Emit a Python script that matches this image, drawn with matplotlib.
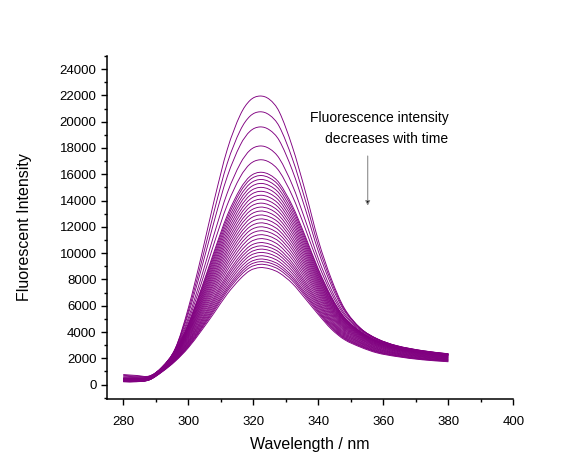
import numpy as np
import matplotlib.pyplot as plt
from matplotlib.path import Path
from matplotlib.patches import PathPatch
from matplotlib.ticker import MultipleLocator

# Emission spectra recorded over time (first row = first scan, highest peak)
wavelength = [280, 284, 288, 292, 296, 300, 304, 308, 312, 316, 319, 322,
              325, 328, 332, 336, 340, 344, 348, 353, 358, 364, 372, 380]

spectra = [
    [770, 700, 660, 1320, 2740, 5820, 9770, 14050, 17890, 20520, 21620, 21950, 21690, 20740, 18110, 14710, 10980, 8050, 5820, 4280, 3470, 2900, 2500, 2240],
    [710, 650, 640, 1340, 2740, 5590, 9260, 13230, 16840, 19340, 20420, 20750, 20500, 19630, 17200, 14030, 10570, 7830, 5730, 4280, 3500, 2950, 2550, 2300],
    [650, 600, 620, 1350, 2710, 5370, 8770, 12460, 15830, 18220, 19270, 19600, 19370, 18560, 16310, 13360, 10150, 7570, 5620, 4260, 3500, 2970, 2580, 2330],
    [580, 540, 600, 1350, 2660, 5070, 8160, 11480, 14580, 16810, 17830, 18150, 17940, 17200, 15190, 12500, 9600, 7230, 5440, 4200, 3470, 2970, 2590, 2350],
    [530, 500, 580, 1340, 2610, 4850, 7700, 10790, 13680, 15800, 16780, 17100, 16910, 16220, 14360, 11870, 9190, 6960, 5300, 4130, 3430, 2940, 2570, 2340],
    [490, 470, 560, 1330, 2560, 4640, 7290, 10160, 12880, 14890, 15840, 16150, 15970, 15330, 13610, 11290, 8790, 6700, 5140, 4050, 3370, 2910, 2540, 2320],
    [480, 460, 550, 1320, 2540, 4580, 7190, 9990, 12660, 14650, 15590, 15900, 15720, 15100, 13410, 11130, 8690, 6630, 5100, 4020, 3350, 2900, 2540, 2320],
    [470, 450, 540, 1320, 2520, 4510, 7060, 9790, 12410, 14360, 15290, 15600, 15430, 14820, 13170, 10950, 8560, 6550, 5050, 3990, 3330, 2880, 2520, 2310],
    [460, 430, 540, 1310, 2500, 4440, 6930, 9600, 12160, 14070, 14990, 15300, 15130, 14540, 12930, 10760, 8430, 6460, 4990, 3960, 3310, 2860, 2510, 2290],
    [450, 420, 530, 1300, 2470, 4370, 6790, 9400, 11910, 13790, 14700, 15000, 14840, 14250, 12690, 10570, 8300, 6360, 4930, 3920, 3280, 2840, 2490, 2280],
    [430, 410, 520, 1290, 2450, 4300, 6660, 9200, 11650, 13500, 14400, 14700, 14540, 13970, 12450, 10380, 8170, 6280, 4880, 3890, 3250, 2820, 2480, 2270],
    [420, 400, 520, 1280, 2430, 4230, 6530, 9010, 11400, 13210, 14100, 14400, 14240, 13690, 12210, 10190, 8030, 6180, 4820, 3850, 3230, 2800, 2460, 2250],
    [410, 390, 510, 1270, 2400, 4160, 6400, 8810, 11150, 12930, 13800, 14100, 13950, 13410, 11970, 10000, 7900, 6090, 4760, 3810, 3200, 2780, 2440, 2240],
    [400, 380, 500, 1260, 2370, 4090, 6270, 8620, 10900, 12640, 13510, 13800, 13650, 13130, 11730, 9810, 7760, 5990, 4690, 3770, 3160, 2750, 2420, 2220],
    [390, 370, 490, 1250, 2340, 4010, 6140, 8420, 10650, 12360, 13210, 13500, 13360, 12840, 11490, 9610, 7620, 5900, 4630, 3730, 3130, 2730, 2400, 2200],
    [370, 360, 480, 1230, 2310, 3940, 6010, 8230, 10400, 12080, 12910, 13200, 13060, 12560, 11240, 9420, 7480, 5800, 4560, 3680, 3090, 2700, 2370, 2180],
    [360, 350, 480, 1220, 2280, 3870, 5870, 8030, 10160, 11790, 12620, 12900, 12760, 12280, 11000, 9220, 7340, 5700, 4490, 3630, 3060, 2670, 2350, 2160],
    [350, 340, 470, 1210, 2250, 3790, 5740, 7840, 9910, 11510, 12320, 12600, 12470, 12000, 10760, 9030, 7200, 5600, 4420, 3580, 3020, 2640, 2320, 2130],
    [340, 330, 460, 1190, 2220, 3710, 5610, 7650, 9660, 11230, 12020, 12300, 12170, 11710, 10510, 8830, 7060, 5500, 4350, 3530, 2980, 2610, 2290, 2110],
    [330, 320, 450, 1180, 2190, 3640, 5480, 7450, 9410, 10950, 11730, 12000, 11870, 11430, 10270, 8630, 6910, 5390, 4280, 3480, 2940, 2570, 2260, 2080],
    [320, 310, 440, 1160, 2150, 3560, 5340, 7260, 9170, 10660, 11430, 11700, 11580, 11150, 10020, 8440, 6770, 5290, 4200, 3430, 2900, 2540, 2230, 2060],
    [310, 300, 430, 1140, 2120, 3480, 5210, 7070, 8920, 10380, 11140, 11400, 11280, 10870, 9770, 8240, 6620, 5180, 4130, 3370, 2850, 2500, 2200, 2030],
    [300, 290, 430, 1130, 2080, 3400, 5080, 6870, 8680, 10100, 10840, 11100, 10990, 10580, 9530, 8040, 6470, 5070, 4050, 3320, 2810, 2460, 2170, 2000],
    [290, 280, 420, 1110, 2040, 3320, 4940, 6680, 8430, 9820, 10550, 10800, 10690, 10300, 9280, 7840, 6320, 4960, 3970, 3260, 2760, 2420, 2140, 1970],
    [280, 270, 410, 1090, 2010, 3260, 4830, 6520, 8230, 9590, 10300, 10550, 10440, 10060, 9070, 7670, 6200, 4870, 3900, 3210, 2720, 2390, 2110, 1940],
    [270, 260, 400, 1080, 1980, 3190, 4720, 6360, 8030, 9350, 10050, 10300, 10200, 9830, 8870, 7500, 6070, 4770, 3830, 3160, 2680, 2350, 2080, 1920],
    [260, 260, 390, 1060, 1940, 3120, 4610, 6200, 7820, 9120, 9810, 10050, 9950, 9590, 8660, 7330, 5940, 4680, 3760, 3110, 2630, 2320, 2040, 1890],
    [250, 250, 385, 1040, 1910, 3050, 4500, 6040, 7620, 8890, 9560, 9800, 9700, 9350, 8450, 7160, 5810, 4570, 3690, 3050, 2590, 2280, 2010, 1860],
    [240, 240, 380, 1030, 1870, 2980, 4390, 5890, 7420, 8660, 9320, 9550, 9450, 9120, 8240, 6990, 5680, 4480, 3620, 3000, 2540, 2240, 1980, 1830],
    [240, 240, 370, 1010, 1850, 2930, 4300, 5760, 7260, 8470, 9120, 9350, 9260, 8930, 8080, 6850, 5580, 4400, 3560, 2950, 2510, 2210, 1950, 1800],
    [230, 230, 360, 1000, 1820, 2870, 4210, 5630, 7100, 8290, 8920, 9150, 9060, 8740, 7910, 6710, 5470, 4330, 3500, 2910, 2470, 2180, 1920, 1780],
    [220, 220, 360, 980, 1780, 2800, 4090, 5470, 6900, 8050, 8680, 8900, 8810, 8500, 7700, 6540, 5340, 4230, 3430, 2850, 2420, 2140, 1890, 1740],
]

LINE_COLOR = '#800080'


def spline_path(x, y):
    # cubic Hermite segments through the measured points (drawn as Bezier curves)
    x = np.asarray(x, float)
    y = np.asarray(y, float)
    n = len(x)
    slope = np.empty(n)
    slope[0] = (y[1] - y[0]) / (x[1] - x[0])
    slope[-1] = (y[-1] - y[-2]) / (x[-1] - x[-2])
    slope[1:-1] = (y[2:] - y[:-2]) / (x[2:] - x[:-2])
    verts = [(x[0], y[0])]
    codes = [Path.MOVETO]
    for i in range(n - 1):
        h = (x[i + 1] - x[i]) / 3.0
        verts += [(x[i] + h, y[i] + slope[i] * h),
                  (x[i + 1] - h, y[i + 1] - slope[i + 1] * h),
                  (x[i + 1], y[i + 1])]
        codes += [Path.CURVE4] * 3
    return Path(verts, codes)


plt.rcParams['font.family'] = ['Liberation Sans', 'DejaVu Sans']

fig = plt.figure(figsize=(5.88, 4.74), dpi=100)
ax = fig.add_axes([0.182, 0.158, 0.691, 0.724])

for s in spectra:
    ax.add_patch(PathPatch(spline_path(wavelength, s), fill=False,
                           edgecolor=LINE_COLOR, lw=0.65))

ax.set_xlim(275, 400)
ax.set_ylim(-1100, 25000)
ax.xaxis.set_major_locator(MultipleLocator(20))
ax.xaxis.set_minor_locator(MultipleLocator(10))
ax.yaxis.set_minor_locator(MultipleLocator(1000))
ax.set_yticks(range(0, 24001, 2000))

for side in ['top', 'right']:
    ax.spines[side].set_visible(False)
for side in ['left', 'bottom']:
    ax.spines[side].set_linewidth(1.1)

ax.tick_params(which='major', direction='out', length=4.5, width=1.0, labelsize=9.5)
ax.tick_params(which='minor', direction='out', length=2.5, width=1.0)
ax.tick_params(axis='x', pad=8)
ax.tick_params(axis='y', pad=3)

ax.set_xlabel('Wavelength / nm', fontsize=11.5, labelpad=6)
ax.set_ylabel('Fluorescent Intensity', fontsize=11.5, labelpad=20)

ax.text(380, 20250, 'Fluorescence intensity', ha='right', va='center', fontsize=10)
ax.text(380, 18650, 'decreases with time', ha='right', va='center', fontsize=10)
ax.annotate('', xy=(355.2, 13400), xytext=(355.2, 17600),
            arrowprops=dict(arrowstyle='-|>', color='0.55', fc='black', ec='0.55',
                            lw=0.8, mutation_scale=7))

fig.savefig('out.png', dpi=100)
